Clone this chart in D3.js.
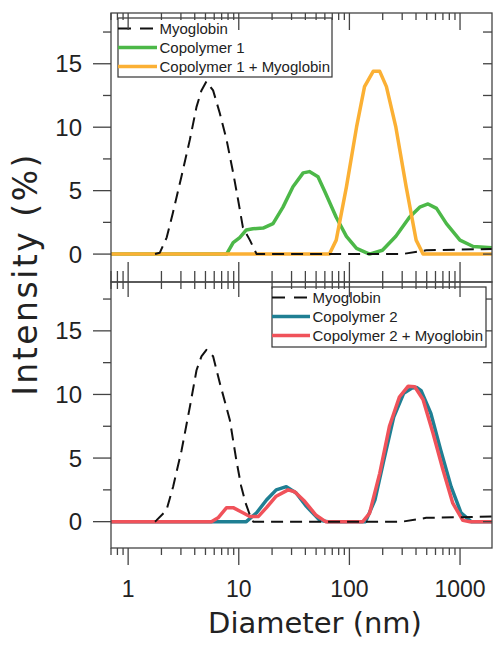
<!DOCTYPE html>
<html>
<head>
<meta charset="utf-8">
<script src="https://cdn.jsdelivr.net/npm/d3@7"></script>
<style>
  body { margin: 0; background: #fff; }
  text { font-family: "Liberation Sans", Arial, sans-serif; fill: #222; }
</style>
</head>
<body>
<svg id="chart" width="493" height="645"></svg>
<script>
// Top panel data (diameter in nm, intensity in %)
var myo1D = [1.75, 1.93, 2.23, 2.53, 3.03, 3.61, 4.15, 4.6, 5.1, 5.86, 6.74, 7.76, 8.9, 9.85, 10.9, 12.6, 14.5, 300, 495, 1945];
var myo1I = [0, 0.1, 1.3, 3.2, 6.1, 9.0, 11.6, 12.9, 13.6, 12.9, 11.1, 9.0, 6.4, 4.3, 2.1, 1.1, 0, 0, 0.3, 0.4];
var cop1D = [0.7, 7.76, 8.9, 10.2, 11.7, 13.4, 16.6, 20.4, 25.1, 30.9, 38.2, 43.5, 52, 60.9, 76, 94, 116, 152, 199, 263, 349, 432, 514, 613, 753, 998, 1316, 1945];
var cop1I = [0, 0, 0.9, 1.3, 1.9, 2.0, 2.05, 2.4, 3.7, 5.3, 6.4, 6.5, 6.1, 4.8, 2.9, 1.4, 0.45, 0, 0.3, 1.4, 2.9, 3.7, 3.95, 3.6, 2.4, 1.1, 0.6, 0.5];
var cop1MD = [0.7, 66, 76, 94, 116, 137, 164, 188, 216, 263, 326, 401, 463, 1945];
var cop1MI = [0, 0, 1.1, 5.3, 10.0, 13.2, 14.4, 14.4, 13.2, 10.0, 5.3, 1.1, 0, 0];

// Bottom panel data
var myo2D = [1.75, 1.8, 2.22, 2.55, 3.04, 3.61, 4.15, 4.6, 5.1, 5.86, 6.74, 8.3, 9.5, 10.5, 11.5, 12.5, 13.5, 300, 495, 1945];
var myo2I = [0, 0.1, 0.9, 2.75, 5.6, 9.0, 11.9, 13.0, 13.5, 13.0, 10.9, 8.0, 4.85, 2.8, 1.5, 0.6, 0, 0, 0.3, 0.4];
var cop2D = [0.7, 11.7, 14.5, 17.8, 21.8, 26.9, 33, 40.9, 54, 64, 140, 170, 205, 252, 310, 368, 405, 445, 545, 670, 830, 1020, 1260, 1945];
var cop2I = [0, 0, 0.7, 1.7, 2.5, 2.75, 2.25, 1.2, 0.1, 0, 0, 1.7, 4.85, 8.25, 10.1, 10.5, 10.55, 10.3, 8.5, 5.6, 2.75, 0.7, 0, 0];
var cop2MD = [0.7, 5.66, 6.5, 7.76, 8.9, 10.9, 12.6, 15, 17.8, 21.8, 27.9, 32, 39.4, 50, 61, 132, 152, 188, 230, 283, 340, 390, 463, 570, 700, 860, 1060, 1230, 1945];
var cop2MI = [0, 0, 0.3, 1.1, 1.1, 0.7, 0.4, 0.4, 1.1, 2.0, 2.5, 2.35, 1.6, 0.5, 0, 0, 0.65, 3.8, 7.5, 9.8, 10.65, 10.6, 9.6, 6.95, 4.1, 1.45, 0.1, 0, 0];

// Axis ticks and legend texts
var yMajor = [0, 5, 10, 15];
var yMinor = [2.5, 7.5, 12.5, 17.5];
var xLabels = [1, 10, 100, 1000];
var legend1 = ["Myoglobin", "Copolymer 1", "Copolymer 1 + Myoglobin"];
var legend2 = ["Myoglobin", "Copolymer 2", "Copolymer 2 + Myoglobin"];
var colors1 = ["#111", "#4cb848", "#fbb034"];
var colors2 = ["#111", "#1f7f93", "#f0525a"];

var svg = d3.select("#chart");
var left = 111, right = 492;

var x = d3.scaleLog()
    .domain([0.7, 1945])
    .range([left, right]);

function zip(ds, is) {
    return ds.map(function(d, i) { return [d, is[i]]; });
}

//Draw one panel with its frame, ticks, lines and legend
function drawPanel(top, bottom, yDom, series, names, colors, lg, idx) {
    var y = d3.scaleLinear().domain(yDom).range([bottom, top]);
    var g = svg.append("g");

    g.append("clipPath").attr("id", "clip" + idx)
        .append("rect")
        .attr("x", left).attr("y", top)
        .attr("width", right - left).attr("height", bottom - top);

    var line = d3.line()
        .x(d => x(d[0]))
        .y(d => y(d[1]));

    // colored lines first, dashed myoglobin on top
    var order = [1, 2, 0];
    order.forEach(function(k) {
        g.append("path")
            .datum(series[k])
            .attr("clip-path", "url(#clip" + idx + ")")
            .attr("d", line)
            .attr("fill", "none")
            .attr("stroke", colors[k])
            .attr("stroke-width", k == 0 ? 2 : 3.5)
            .attr("stroke-dasharray", k == 0 ? "12,7" : null)
            .attr("stroke-linejoin", "round");
    });

    // frame
    g.append("rect")
        .attr("x", left).attr("y", top)
        .attr("width", right - left).attr("height", bottom - top)
        .attr("fill", "none")
        .attr("stroke", "#444")
        .attr("stroke-width", 1.3);

    // y ticks: left outward, right inward
    yMajor.forEach(function(t) {
        g.append("line").attr("x1", left - 18).attr("x2", left)
            .attr("y1", y(t)).attr("y2", y(t)).attr("stroke", "#444").attr("stroke-width", 1.3);
        g.append("line").attr("x1", right - 9).attr("x2", right)
            .attr("y1", y(t)).attr("y2", y(t)).attr("stroke", "#444").attr("stroke-width", 1.3);
        g.append("text")
            .attr("x", 82).attr("y", y(t))
            .attr("dy", "0.36em")
            .attr("text-anchor", "end")
            .attr("font-size", 24)
            .text(t);
    });
    yMinor.forEach(function(t) {
        if (y(t) < top) return;
        g.append("line").attr("x1", left - 8).attr("x2", left)
            .attr("y1", y(t)).attr("y2", y(t)).attr("stroke", "#444").attr("stroke-width", 1.3);
        g.append("line").attr("x1", right - 9).attr("x2", right)
            .attr("y1", y(t)).attr("y2", y(t)).attr("stroke", "#444").attr("stroke-width", 1.3);
    });

    // legend
    var box = g.append("g").attr("transform", "translate(" + lg.x + "," + lg.y + ")");
    box.append("rect")
        .attr("width", lg.w).attr("height", lg.h)
        .attr("fill", "#fff")
        .attr("stroke", "#333")
        .attr("stroke-width", 1.2);
    names.forEach(function(n, i) {
        var ry = 10.5 + i * 19;
        box.append("line")
            .attr("x1", 0).attr("x2", lg.sample)
            .attr("y1", ry).attr("y2", ry)
            .attr("stroke", colors[i])
            .attr("stroke-width", i == 0 ? 2 : 3.5)
            .attr("stroke-dasharray", i == 0 ? "13,9" : null);
        box.append("text")
            .attr("x", lg.sample + 2.5).attr("y", ry)
            .attr("dy", "0.35em")
            .attr("font-size", 15)
            .text(n);
    });
    return y;
}

//x ticks along a horizontal line
function xTicks(yPos, upMaj, downMaj, upMin, downMin) {
    x.ticks().forEach(function(t) {
        var lg = Math.log10(t);
        var major = Math.abs(lg - Math.round(lg)) < 1e-6;
        svg.append("line")
            .attr("x1", x(t)).attr("x2", x(t))
            .attr("y1", yPos - (major ? upMaj : upMin))
            .attr("y2", yPos + (major ? downMaj : downMin))
            .attr("stroke", "#444")
            .attr("stroke-width", 1.3);
    });
}

drawPanel(13, 282, [-2.2, 19.0],
    [zip(myo1D, myo1I), zip(cop1D, cop1I), zip(cop1MD, cop1MI)],
    legend1, colors1, {x: 118, y: 18, w: 214, h: 59, sample: 39}, 1);

drawPanel(282, 548, [-2.07, 18.84],
    [zip(myo2D, myo2I), zip(cop2D, cop2I), zip(cop2MD, cop2MI)],
    legend2, colors2, {x: 272, y: 287, w: 214, h: 60, sample: 38}, 2);

xTicks(13, 0, 17, 0, 7);
xTicks(282, 20, 15, 11, 7);
xTicks(548, 0, 17, 0, 7);

// x tick labels
svg.selectAll(".xlab")
    .data(xLabels)
    .enter()
    .append("text")
    .attr("x", d => x(d))
    .attr("y", 597)
    .attr("text-anchor", "middle")
    .attr("font-size", 23)
    .text(d => d);

// axis titles
svg.append("text")
    .attr("x", 315).attr("y", 633)
    .attr("text-anchor", "middle")
    .attr("font-size", 29)
    .style("font-family", "'DejaVu Sans', Verdana, sans-serif")
    .text("Diameter (nm)");

svg.append("text")
    .attr("transform", "translate(37,274) rotate(-90)")
    .attr("text-anchor", "middle")
    .attr("font-size", 33)
    .attr("letter-spacing", 2.5)
    .style("font-family", "'DejaVu Sans', Verdana, sans-serif")
    .text("Intensity (%)");
</script>
</body>
</html>
